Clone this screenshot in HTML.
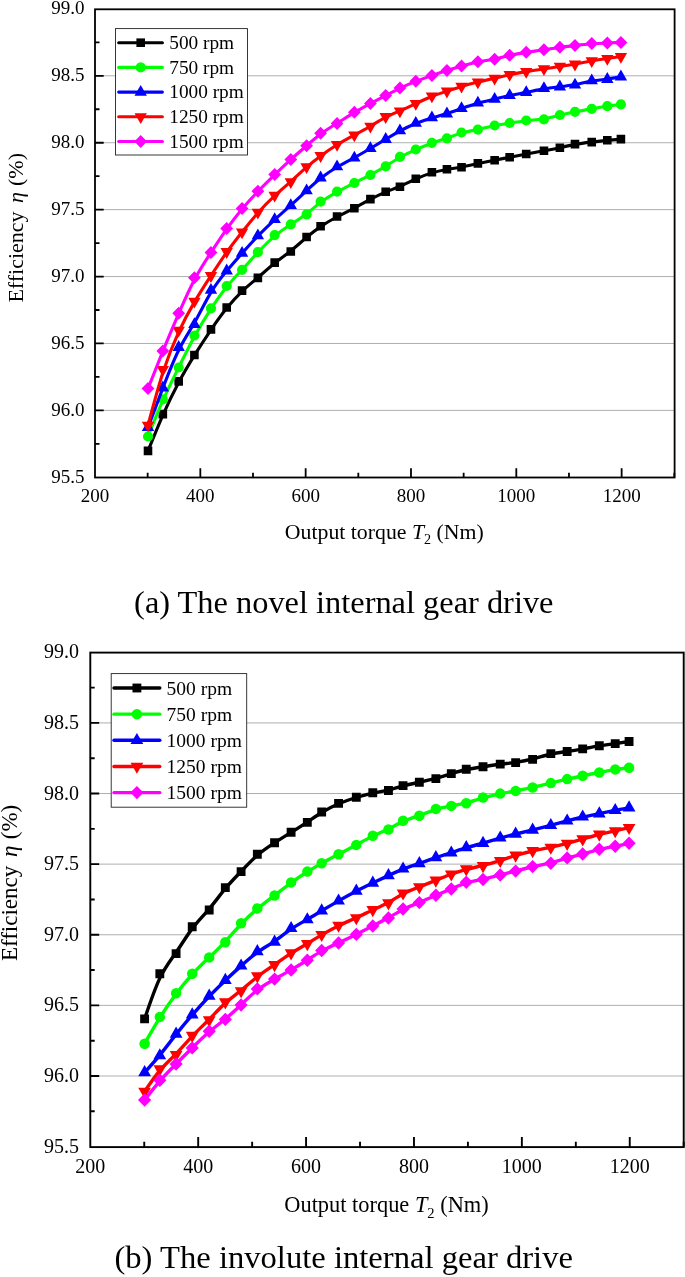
<!DOCTYPE html>
<html lang="en"><head><meta charset="utf-8"><title>Efficiency vs output torque</title>
<style>
html,body{margin:0;padding:0;background:#fff;}
body{width:685px;height:1277px;overflow:hidden;font-family:"Liberation Serif","Times New Roman",serif;}
svg{display:block;position:absolute;left:0;top:0;}
svg text{font-family:"Liberation Serif","Times New Roman",serif;fill:#000;}
</style></head><body>
<svg width="685" height="1277" viewBox="0 0 685 1277">
<rect width="685" height="1277" fill="#fff"/>
<g id="chart-a">
<path d="M95 75.81H674.6M95 142.73H674.6M95 209.64H674.6M95 276.56H674.6M95 343.47H674.6M95 410.39H674.6" stroke="#9a9a9a" stroke-width="0.8" fill="none"/>
<path d="M148 450.9C152.94 438.63 157.89 426.37 163 414.78C168.12 403.2 173.41 392.3 178.67 382.45C183.93 372.6 189.17 363.8 194.55 355.13C199.93 346.47 205.45 337.93 210.83 330.02C216.21 322.1 221.45 314.8 226.63 308.33C231.81 301.87 236.93 296.23 242.13 291.3C247.33 286.37 252.6 282.13 258.04 277.47C263.48 272.8 269.08 267.7 274.56 263.3C280.05 258.9 285.42 255.2 290.74 250.93C296.06 246.67 301.33 241.83 306.3 237.62C311.27 233.4 315.93 229.8 321.01 226.38C326.08 222.97 331.57 219.73 337.19 216.75C342.82 213.77 348.58 211.03 354.14 208.13C359.7 205.23 365.06 202.17 370.28 199.4C375.5 196.63 380.59 194.17 385.51 192.1C390.43 190.03 395.18 188.37 400.2 186.22C405.21 184.07 410.5 181.43 415.83 179.03C421.16 176.63 426.53 174.47 431.72 172.88C436.91 171.3 441.92 170.3 446.86 169.45C451.79 168.6 456.65 167.9 461.81 166.92C466.97 165.93 472.42 164.67 477.94 163.5C483.46 162.33 489.04 161.27 494.34 160.23C499.64 159.2 504.64 158.2 509.91 157.17C515.17 156.13 520.69 155.07 526.41 154C532.12 152.93 538.03 151.87 543.64 150.83C549.25 149.8 554.56 148.8 559.73 147.68C564.9 146.57 569.95 145.33 575.26 144.38C580.57 143.43 586.16 142.77 591.54 142.13C596.93 141.5 602.12 140.9 606.98 140.4C611.84 139.9 616.38 139.5 620.91 139.1" stroke="#000000" stroke-width="3.1" fill="none" stroke-linejoin="round"/>
<path d="M143.7 446.6h8.6v8.6h-8.6zM158.53 409.8h8.6v8.6h-8.6zM174.39 377.1h8.6v8.6h-8.6zM190.11 350.7h8.6v8.6h-8.6zM206.67 325.1h8.6v8.6h-8.6zM222.39 303.2h8.6v8.6h-8.6zM237.76 286.3h8.6v8.6h-8.6zM253.57 273.6h8.6v8.6h-8.6zM270.38 258.3h8.6v8.6h-8.6zM286.49 247.2h8.6v8.6h-8.6zM302.3 232.7h8.6v8.6h-8.6zM316.3 221.9h8.6v8.6h-8.6zM332.75 212.2h8.6v8.6h-8.6zM350.05 204h8.6v8.6h-8.6zM366.11 194.8h8.6v8.6h-8.6zM381.39 187.4h8.6v8.6h-8.6zM395.63 182.4h8.6v8.6h-8.6zM411.49 174.5h8.6v8.6h-8.6zM427.6 168h8.6v8.6h-8.6zM442.63 165h8.6v8.6h-8.6zM457.22 162.9h8.6v8.6h-8.6zM473.57 159.1h8.6v8.6h-8.6zM490.33 155.9h8.6v8.6h-8.6zM505.35 152.9h8.6v8.6h-8.6zM521.91 149.7h8.6v8.6h-8.6zM539.65 146.5h8.6v8.6h-8.6zM555.56 143.5h8.6v8.6h-8.6zM570.69 139.8h8.6v8.6h-8.6zM587.44 137.8h8.6v8.6h-8.6zM603.01 136h8.6v8.6h-8.6zM616.61 134.8h8.6v8.6h-8.6z" fill="#000000"/>
<path d="M148 436.5C152.94 424.1 157.89 411.7 163 400.2C168.12 388.7 173.41 378.1 178.67 367.47C183.93 356.83 189.17 346.17 194.55 336.3C199.93 326.43 205.45 317.37 210.83 309.12C216.21 300.87 221.45 293.43 226.63 287.02C231.81 280.6 236.93 275.2 242.13 269.57C247.33 263.93 252.6 258.07 258.04 252.28C263.48 246.5 269.08 240.8 274.56 236.15C280.05 231.5 285.42 227.9 290.74 224.45C296.06 221 301.33 217.7 306.3 213.92C311.27 210.13 315.93 205.87 321.01 202.08C326.08 198.3 331.57 195 337.19 191.9C342.82 188.8 348.58 185.9 354.14 183.12C359.7 180.33 365.06 177.67 370.28 174.9C375.5 172.13 380.59 169.27 385.51 166.25C390.43 163.23 395.18 160.07 400.2 157.25C405.21 154.43 410.5 151.97 415.83 149.62C421.16 147.27 426.53 145.03 431.72 143.17C436.91 141.3 441.92 139.8 446.86 138.08C451.79 136.37 456.65 134.43 461.81 133C466.97 131.57 472.42 130.63 477.94 129.47C483.46 128.3 489.04 126.9 494.34 125.78C499.64 124.67 504.64 123.83 509.91 123C515.17 122.17 520.69 121.33 526.41 120.72C532.12 120.1 538.03 119.7 543.64 118.78C549.25 117.87 554.56 116.43 559.73 115.18C564.9 113.93 569.95 112.87 575.26 111.83C580.57 110.8 586.16 109.8 591.54 108.85C596.93 107.9 602.12 107 606.98 106.27C611.84 105.53 616.38 104.97 620.91 104.4" stroke="#00ff00" stroke-width="3.1" fill="none" stroke-linejoin="round"/>
<path d="M142.9 436.5a5.1 5.1 0 1 0 10.2 0a5.1 5.1 0 1 0 -10.2 0zM157.73 399.3a5.1 5.1 0 1 0 10.2 0a5.1 5.1 0 1 0 -10.2 0zM173.59 367.5a5.1 5.1 0 1 0 10.2 0a5.1 5.1 0 1 0 -10.2 0zM189.31 335.5a5.1 5.1 0 1 0 10.2 0a5.1 5.1 0 1 0 -10.2 0zM205.87 308.3a5.1 5.1 0 1 0 10.2 0a5.1 5.1 0 1 0 -10.2 0zM221.59 286a5.1 5.1 0 1 0 10.2 0a5.1 5.1 0 1 0 -10.2 0zM236.96 269.8a5.1 5.1 0 1 0 10.2 0a5.1 5.1 0 1 0 -10.2 0zM252.77 252.2a5.1 5.1 0 1 0 10.2 0a5.1 5.1 0 1 0 -10.2 0zM269.58 235.1a5.1 5.1 0 1 0 10.2 0a5.1 5.1 0 1 0 -10.2 0zM285.69 224.3a5.1 5.1 0 1 0 10.2 0a5.1 5.1 0 1 0 -10.2 0zM301.5 214.4a5.1 5.1 0 1 0 10.2 0a5.1 5.1 0 1 0 -10.2 0zM315.5 201.6a5.1 5.1 0 1 0 10.2 0a5.1 5.1 0 1 0 -10.2 0zM331.95 191.7a5.1 5.1 0 1 0 10.2 0a5.1 5.1 0 1 0 -10.2 0zM349.25 183a5.1 5.1 0 1 0 10.2 0a5.1 5.1 0 1 0 -10.2 0zM365.31 175a5.1 5.1 0 1 0 10.2 0a5.1 5.1 0 1 0 -10.2 0zM380.59 166.4a5.1 5.1 0 1 0 10.2 0a5.1 5.1 0 1 0 -10.2 0zM394.83 156.9a5.1 5.1 0 1 0 10.2 0a5.1 5.1 0 1 0 -10.2 0zM410.69 149.5a5.1 5.1 0 1 0 10.2 0a5.1 5.1 0 1 0 -10.2 0zM426.8 142.8a5.1 5.1 0 1 0 10.2 0a5.1 5.1 0 1 0 -10.2 0zM441.83 138.3a5.1 5.1 0 1 0 10.2 0a5.1 5.1 0 1 0 -10.2 0zM456.42 132.5a5.1 5.1 0 1 0 10.2 0a5.1 5.1 0 1 0 -10.2 0zM472.77 129.7a5.1 5.1 0 1 0 10.2 0a5.1 5.1 0 1 0 -10.2 0zM489.53 125.5a5.1 5.1 0 1 0 10.2 0a5.1 5.1 0 1 0 -10.2 0zM504.55 123a5.1 5.1 0 1 0 10.2 0a5.1 5.1 0 1 0 -10.2 0zM521.11 120.5a5.1 5.1 0 1 0 10.2 0a5.1 5.1 0 1 0 -10.2 0zM538.85 119.3a5.1 5.1 0 1 0 10.2 0a5.1 5.1 0 1 0 -10.2 0zM554.76 115a5.1 5.1 0 1 0 10.2 0a5.1 5.1 0 1 0 -10.2 0zM569.89 111.8a5.1 5.1 0 1 0 10.2 0a5.1 5.1 0 1 0 -10.2 0zM586.64 108.8a5.1 5.1 0 1 0 10.2 0a5.1 5.1 0 1 0 -10.2 0zM602.21 106.1a5.1 5.1 0 1 0 10.2 0a5.1 5.1 0 1 0 -10.2 0zM615.81 104.4a5.1 5.1 0 1 0 10.2 0a5.1 5.1 0 1 0 -10.2 0z" fill="#00ff00"/>
<path d="M148 427.5C152.94 414.27 157.89 401.03 163 387.67C168.12 374.3 173.41 360.8 178.67 350.23C183.93 339.67 189.17 332.03 194.55 322.5C199.93 312.97 205.45 301.53 210.83 292.6C216.21 283.67 221.45 277.23 226.63 271.07C231.81 264.9 236.93 259 242.13 253.13C247.33 247.27 252.6 241.43 258.04 235.83C263.48 230.23 269.08 224.87 274.56 219.83C280.05 214.8 285.42 210.1 290.74 205.28C296.06 200.47 301.33 195.53 306.3 190.93C311.27 186.33 315.93 182.07 321.01 178.07C326.08 174.07 331.57 170.33 337.19 167.02C342.82 163.7 348.58 160.8 354.14 157.78C359.7 154.77 365.06 151.63 370.28 148.53C375.5 145.43 380.59 142.37 385.51 139.38C390.43 136.4 395.18 133.5 400.2 130.82C405.21 128.13 410.5 125.67 415.83 123.52C421.16 121.37 426.53 119.53 431.72 117.97C436.91 116.4 441.92 115.1 446.86 113.55C451.79 112 456.65 110.2 461.81 108.38C466.97 106.57 472.42 104.73 477.94 103.2C483.46 101.67 489.04 100.43 494.34 99.18C499.64 97.93 504.64 96.67 509.91 95.55C515.17 94.43 520.69 93.47 526.41 92.32C532.12 91.17 538.03 89.83 543.64 88.88C549.25 87.93 554.56 87.37 559.73 86.78C564.9 86.2 569.95 85.6 575.26 84.57C580.57 83.53 586.16 82.07 591.54 81.12C596.93 80.17 602.12 79.73 606.98 79.1C611.84 78.47 616.38 77.63 620.91 76.8" stroke="#0000ff" stroke-width="3.1" fill="none" stroke-linejoin="round"/>
<path d="M148 420.3L154.2 431.1L141.8 431.1zM162.83 380.6L169.03 391.4L156.63 391.4zM178.69 340.1L184.89 350.9L172.49 350.9zM194.41 317.2L200.61 328L188.21 328zM210.97 282.9L217.17 293.7L204.77 293.7zM226.69 263.6L232.89 274.4L220.49 274.4zM242.06 245.9L248.26 256.7L235.86 256.7zM257.87 228.4L264.07 239.2L251.67 239.2zM274.68 212.3L280.88 223.1L268.48 223.1zM290.79 198.2L296.99 209L284.59 209zM306.6 183.4L312.8 194.2L300.4 194.2zM320.6 170.6L326.8 181.4L314.4 181.4zM337.05 159.4L343.25 170.2L330.85 170.2zM354.35 150.7L360.55 161.5L348.15 161.5zM370.41 141.3L376.61 152.1L364.21 152.1zM385.69 132.1L391.89 142.9L379.49 142.9zM399.93 123.4L406.13 134.2L393.73 134.2zM415.79 116L421.99 126.8L409.59 126.8zM431.9 110.5L438.1 121.3L425.7 121.3zM446.93 106.6L453.13 117.4L440.73 117.4zM461.52 101.2L467.72 112L455.32 112zM477.87 95.7L484.07 106.5L471.67 106.5zM494.63 92L500.83 102.8L488.43 102.8zM509.65 88.2L515.85 99L503.45 99zM526.21 85.3L532.41 96.1L520.01 96.1zM543.95 81.3L550.15 92.1L537.75 92.1zM559.86 79.6L566.06 90.4L553.66 90.4zM574.99 77.8L581.19 88.6L568.79 88.6zM591.74 73.4L597.94 84.2L585.54 84.2zM607.31 72.1L613.51 82.9L601.11 82.9zM620.91 69.6L627.11 80.4L614.71 80.4z" fill="#0000ff"/>
<path d="M148 425.3C152.94 406.7 157.89 388.1 163 372.28C168.12 356.47 173.41 343.43 178.67 332.07C183.93 320.7 189.17 311 194.55 301.88C199.93 292.77 205.45 284.23 210.83 275.97C216.21 267.7 221.45 259.7 226.63 252.43C231.81 245.17 236.93 238.63 242.13 232.07C247.33 225.5 252.6 218.9 258.04 212.78C263.48 206.67 269.08 201.03 274.56 195.95C280.05 190.87 285.42 186.33 290.74 181.57C296.06 176.8 301.33 171.8 306.3 167.45C311.27 163.1 315.93 159.4 321.01 155.68C326.08 151.97 331.57 148.23 337.19 144.8C342.82 141.37 348.58 138.23 354.14 135.22C359.7 132.2 365.06 129.3 370.28 126.23C375.5 123.17 380.59 119.93 385.51 117.37C390.43 114.8 395.18 112.9 400.2 110.72C405.21 108.53 410.5 106.07 415.83 103.58C421.16 101.1 426.53 98.6 431.72 96.53C436.91 94.47 441.92 92.83 446.86 91.2C451.79 89.57 456.65 87.93 461.81 86.4C466.97 84.87 472.42 83.43 477.94 82.1C483.46 80.77 489.04 79.53 494.34 78.3C499.64 77.07 504.64 75.83 509.91 74.72C515.17 73.6 520.69 72.6 526.41 71.65C532.12 70.7 538.03 69.8 543.64 68.93C549.25 68.07 554.56 67.23 559.73 66.45C564.9 65.67 569.95 64.93 575.26 64.02C580.57 63.1 586.16 62 591.54 61.05C596.93 60.1 602.12 59.3 606.98 58.57C611.84 57.83 616.38 57.17 620.91 56.5" stroke="#ff0000" stroke-width="3.1" fill="none" stroke-linejoin="round"/>
<path d="M148 432.5L154.2 421.7L141.8 421.7zM162.83 376.7L169.03 365.9L156.63 365.9zM178.69 337.6L184.89 326.8L172.49 326.8zM194.41 308.5L200.61 297.7L188.21 297.7zM210.97 282.9L217.17 272.1L204.77 272.1zM226.69 258.9L232.89 248.1L220.49 248.1zM242.06 239.3L248.26 228.5L235.86 228.5zM257.87 219.5L264.07 208.7L251.67 208.7zM274.68 202.6L280.88 191.8L268.48 191.8zM290.79 189L296.99 178.2L284.59 178.2zM306.6 174L312.8 163.2L300.4 163.2zM320.6 162.9L326.8 152.1L314.4 152.1zM337.05 151.7L343.25 140.9L330.85 140.9zM354.35 142.3L360.55 131.5L348.15 131.5zM370.41 133.6L376.61 122.8L364.21 122.8zM385.69 123.9L391.89 113.1L379.49 113.1zM399.93 118.2L406.13 107.4L393.73 107.4zM415.79 110.8L421.99 100L409.59 100zM431.9 103.3L438.1 92.5L425.7 92.5zM446.93 98.4L453.13 87.6L440.73 87.6zM461.52 93.5L467.72 82.7L455.32 82.7zM477.87 89.2L484.07 78.4L471.67 78.4zM494.63 85.5L500.83 74.7L488.43 74.7zM509.65 81.8L515.85 71L503.45 71zM526.21 78.8L532.41 68L520.01 68zM543.95 76.1L550.15 65.3L537.75 65.3zM559.86 73.6L566.06 62.8L553.66 62.8zM574.99 71.4L581.19 60.6L568.79 60.6zM591.74 68.1L597.94 57.3L585.54 57.3zM607.31 65.7L613.51 54.9L601.11 54.9zM620.91 63.7L627.11 52.9L614.71 52.9z" fill="#ff0000"/>
<path d="M148 388.6C152.94 376.03 157.89 363.47 163 350.92C168.12 338.37 173.41 325.83 178.67 313.65C183.93 301.47 189.17 289.63 194.55 279.5C199.93 269.37 205.45 260.93 210.83 252.7C216.21 244.47 221.45 236.43 226.63 229.1C231.81 221.77 236.93 215.13 242.13 208.93C247.33 202.73 252.6 196.97 258.04 191.3C263.48 185.63 269.08 180.07 274.56 174.77C280.05 169.47 285.42 164.43 290.74 159.65C296.06 154.87 301.33 150.33 306.3 145.98C311.27 141.63 315.93 137.47 321.01 133.73C326.08 130 331.57 126.7 337.19 123.2C342.82 119.7 348.58 116 354.14 112.7C359.7 109.4 365.06 106.5 370.28 103.68C375.5 100.87 380.59 98.13 385.51 95.52C390.43 92.9 395.18 90.4 400.2 88.03C405.21 85.67 410.5 83.43 415.83 81.37C421.16 79.3 426.53 77.4 431.72 75.62C436.91 73.83 441.92 72.17 446.86 70.57C451.79 68.97 456.65 67.43 461.81 65.97C466.97 64.5 472.42 63.1 477.94 61.98C483.46 60.87 489.04 60.03 494.34 58.95C499.64 57.87 504.64 56.53 509.91 55.38C515.17 54.23 520.69 53.27 526.41 52.37C532.12 51.47 538.03 50.63 543.64 49.8C549.25 48.97 554.56 48.13 559.73 47.43C564.9 46.73 569.95 46.17 575.26 45.55C580.57 44.93 586.16 44.27 591.54 43.82C596.93 43.37 602.12 43.13 606.98 42.93C611.84 42.73 616.38 42.57 620.91 42.4" stroke="#ff00ff" stroke-width="3.1" fill="none" stroke-linejoin="round"/>
<path d="M148 382.1L154.4 388.6L148 395.1L141.6 388.6zM162.83 344.4L169.23 350.9L162.83 357.4L156.43 350.9zM178.69 306.8L185.09 313.3L178.69 319.8L172.29 313.3zM194.41 271.3L200.81 277.8L194.41 284.3L188.01 277.8zM210.97 246L217.37 252.5L210.97 259L204.57 252.5zM226.69 221.9L233.09 228.4L226.69 234.9L220.29 228.4zM242.06 202L248.46 208.5L242.06 215L235.66 208.5zM257.87 184.7L264.27 191.2L257.87 197.7L251.47 191.2zM274.68 168L281.08 174.5L274.68 181L268.28 174.5zM290.79 152.9L297.19 159.4L290.79 165.9L284.39 159.4zM306.6 139.3L313 145.8L306.6 152.3L300.2 145.8zM320.6 126.8L327 133.3L320.6 139.8L314.2 133.3zM337.05 116.9L343.45 123.4L337.05 129.9L330.65 123.4zM354.35 105.8L360.75 112.3L354.35 118.8L347.95 112.3zM370.41 97.1L376.81 103.6L370.41 110.1L364.01 103.6zM385.69 88.9L392.09 95.4L385.69 101.9L379.29 95.4zM399.93 81.4L406.33 87.9L399.93 94.4L393.53 87.9zM415.79 74.7L422.19 81.2L415.79 87.7L409.39 81.2zM431.9 69L438.3 75.5L431.9 82L425.5 75.5zM446.93 64L453.33 70.5L446.93 77L440.53 70.5zM461.52 59.4L467.92 65.9L461.52 72.4L455.12 65.9zM477.87 55.2L484.27 61.7L477.87 68.2L471.47 61.7zM494.63 52.7L501.03 59.2L494.63 65.7L488.23 59.2zM509.65 48.7L516.05 55.2L509.65 61.7L503.25 55.2zM526.21 45.8L532.61 52.3L526.21 58.8L519.81 52.3zM543.95 43.3L550.35 49.8L543.95 56.3L537.55 49.8zM559.86 40.8L566.26 47.3L559.86 53.8L553.46 47.3zM574.99 39.1L581.39 45.6L574.99 52.1L568.59 45.6zM591.74 37.1L598.14 43.6L591.74 50.1L585.34 43.6zM607.31 36.4L613.71 42.9L607.31 49.4L600.91 42.9zM620.91 35.9L627.31 42.4L620.91 48.9L614.51 42.4z" fill="#ff00ff"/>
<rect x="95" y="9.3" width="579.6" height="468.2" fill="none" stroke="#000" stroke-width="1.8"/>
<path d="M95 443.84h4.5M95 410.39h8.7M95 376.93h4.5M95 343.47h8.7M95 310.01h4.5M95 276.56h8.7M95 243.1h4.5M95 209.64h8.7M95 176.19h4.5M95 142.73h8.7M95 109.27h4.5M95 75.81h8.7M95 42.36h4.5M147.66 477.5v-4.7M200.33 477.5v-9.3M252.99 477.5v-4.7M305.65 477.5v-9.3M358.32 477.5v-4.7M410.98 477.5v-9.3M463.65 477.5v-4.7M516.31 477.5v-9.3M568.97 477.5v-4.7M621.64 477.5v-9.3M674.3 477.5v-4.7" stroke="#000" stroke-width="1.8" fill="none"/>
<g font-size="19" text-anchor="end">
<text x="84.6" y="482.8">95.5</text>
<text x="84.6" y="415.89">96.0</text>
<text x="84.6" y="348.97">96.5</text>
<text x="84.6" y="282.06">97.0</text>
<text x="84.6" y="215.14">97.5</text>
<text x="84.6" y="148.23">98.0</text>
<text x="84.6" y="81.31">98.5</text>
<text x="84.6" y="14.4">99.0</text>
</g>
<g font-size="19" text-anchor="middle">
<text x="95" y="502">200</text>
<text x="200.33" y="502">400</text>
<text x="305.65" y="502">600</text>
<text x="410.98" y="502">800</text>
<text x="516.31" y="502">1000</text>
<text x="621.64" y="502">1200</text>
</g>
<text font-size="22" text-anchor="start" transform="translate(23.4 302.6) rotate(-90)">Efficiency<tspan font-style="italic" dx="8.29">η</tspan><tspan dx="6.16">(%)</tspan></text>
<text font-size="21.8" text-anchor="middle" x="384.3" y="538.8">Output torque <tspan font-style="italic">T</tspan><tspan font-size="14.17" dy="5.67">2</tspan><tspan dy="-5.67"> (Nm)</tspan></text>
<rect x="115.5" y="28.6" width="132" height="126.4" fill="#fff" stroke="#222" stroke-width="0.9"/>
<g font-size="19.3">
<path d="M118.7 42.7H162.4" stroke="#000000" stroke-width="3.1" stroke-linecap="round"/>
<path d="M136.4 38.4h8.6v8.6h-8.6z" fill="#000000"/>
<text x="169.3" y="49">500 rpm</text>
<path d="M118.7 67.4H162.4" stroke="#00ff00" stroke-width="3.1" stroke-linecap="round"/>
<path d="M135.6 67.4a5.1 5.1 0 1 0 10.2 0a5.1 5.1 0 1 0 -10.2 0z" fill="#00ff00"/>
<text x="169.3" y="73.7">750 rpm</text>
<path d="M118.7 92.1H162.4" stroke="#0000ff" stroke-width="3.1" stroke-linecap="round"/>
<path d="M140.7 84.9L146.9 95.7L134.5 95.7z" fill="#0000ff"/>
<text x="169.3" y="98.4">1000 rpm</text>
<path d="M118.7 116.8H162.4" stroke="#ff0000" stroke-width="3.1" stroke-linecap="round"/>
<path d="M140.7 124L146.9 113.2L134.5 113.2z" fill="#ff0000"/>
<text x="169.3" y="123.1">1250 rpm</text>
<path d="M118.7 141.5H162.4" stroke="#ff00ff" stroke-width="3.1" stroke-linecap="round"/>
<path d="M140.7 135L147.1 141.5L140.7 148L134.3 141.5z" fill="#ff00ff"/>
<text x="169.3" y="147.8">1500 rpm</text>
</g>
</g>
<text font-size="32.4" text-anchor="middle" x="343.8" y="612.9">(a) The novel internal gear drive</text>
<g id="chart-b">
<path d="M90.3 722.91H683.7M90.3 793.53H683.7M90.3 864.14H683.7M90.3 934.76H683.7M90.3 1005.37H683.7M90.3 1075.99H683.7" stroke="#a0a0a0" stroke-width="0.85" fill="none"/>
<path d="M144.6 1018.9C149.67 1003.83 154.74 988.77 159.99 977.88C165.24 967 170.67 960.3 176.07 952.47C181.47 944.63 186.84 935.67 192.36 928.4C197.88 921.13 203.54 915.57 209.06 909.05C214.58 902.53 219.95 895.07 225.27 888.67C230.59 882.27 235.84 876.93 241.18 871.37C246.51 865.8 251.92 860 257.5 855.18C263.07 850.37 268.82 846.53 274.45 842.88C280.08 839.23 285.59 835.77 291.04 832.38C296.5 829 301.91 825.7 307.01 822.32C312.11 818.93 316.89 815.47 322.1 812.3C327.31 809.13 332.93 806.27 338.7 803.8C344.48 801.33 350.39 799.27 356.09 797.5C361.8 795.73 367.29 794.27 372.65 793.15C378.01 792.03 383.23 791.27 388.28 790.07C393.32 788.87 398.19 787.23 403.34 785.87C408.49 784.5 413.91 783.4 419.38 782.23C424.85 781.07 430.36 779.83 435.68 778.38C441.01 776.93 446.15 775.27 451.21 773.7C456.28 772.13 461.26 770.67 466.55 769.53C471.84 768.4 477.44 767.6 483.1 766.75C488.76 765.9 494.49 765 499.93 764.3C505.36 763.6 510.5 763.1 515.9 762.32C521.3 761.53 526.96 760.47 532.83 758.97C538.69 757.47 544.75 755.53 550.51 754.22C556.26 752.9 561.71 752.2 567.01 751.42C572.32 750.63 577.49 749.77 582.85 748.8C588.21 747.83 593.75 746.77 599.18 745.88C604.61 745 609.91 744.3 614.88 743.6C619.84 742.9 624.46 742.2 629.07 741.5" stroke="#000000" stroke-width="3.4" fill="none" stroke-linejoin="round"/>
<path d="M140.17 1014.47h8.86v8.86h-8.86zM155.39 969.27h8.86v8.86h-8.86zM171.66 949.17h8.86v8.86h-8.86zM187.79 922.27h8.86v8.86h-8.86zM204.78 905.57h8.86v8.86h-8.86zM220.9 883.17h8.86v8.86h-8.86zM236.67 867.17h8.86v8.86h-8.86zM252.9 849.77h8.86v8.86h-8.86zM270.14 838.27h8.86v8.86h-8.86zM286.67 827.87h8.86v8.86h-8.86zM302.89 817.97h8.86v8.86h-8.86zM317.25 807.57h8.86v8.86h-8.86zM334.13 798.97h8.86v8.86h-8.86zM351.88 792.77h8.86v8.86h-8.86zM368.35 788.37h8.86v8.86h-8.86zM384.03 786.07h8.86v8.86h-8.86zM398.63 781.17h8.86v8.86h-8.86zM414.91 777.87h8.86v8.86h-8.86zM431.44 774.17h8.86v8.86h-8.86zM446.86 769.17h8.86v8.86h-8.86zM461.82 764.77h8.86v8.86h-8.86zM478.6 762.37h8.86v8.86h-8.86zM495.79 759.67h8.86v8.86h-8.86zM511.21 758.17h8.86v8.86h-8.86zM528.19 754.97h8.86v8.86h-8.86zM546.39 749.17h8.86v8.86h-8.86zM562.72 747.07h8.86v8.86h-8.86zM578.24 744.47h8.86v8.86h-8.86zM594.87 741.27h8.86v8.86h-8.86zM610.79 739.17h8.86v8.86h-8.86zM624.64 737.07h8.86v8.86h-8.86z" fill="#000000"/>
<path d="M144.6 1043.7C149.67 1034.77 154.74 1025.83 159.99 1017.43C165.24 1009.03 170.67 1001.17 176.07 993.97C181.47 986.77 186.84 980.23 192.36 974.25C197.88 968.27 203.54 962.83 209.06 957.58C214.58 952.33 219.95 947.27 225.27 941.58C230.59 935.9 235.84 929.6 241.18 923.97C246.51 918.33 251.92 913.37 257.5 908.73C263.07 904.1 268.82 899.8 274.45 895.47C280.08 891.13 285.59 886.77 291.04 882.78C296.5 878.8 301.91 875.2 307.01 872C312.11 868.8 316.89 866 322.1 863.12C327.31 860.23 332.93 857.27 338.7 854.22C344.48 851.17 350.39 848.03 356.09 844.93C361.8 841.83 367.29 838.77 372.65 836.2C378.01 833.63 383.23 831.57 388.28 829.08C393.32 826.6 398.19 823.7 403.34 821.42C408.49 819.13 413.91 817.47 419.38 815.48C424.85 813.5 430.36 811.2 435.68 809.55C441.01 807.9 446.15 806.9 451.21 805.95C456.28 805 461.26 804.1 466.55 802.7C471.84 801.3 477.44 799.4 483.1 797.8C488.76 796.2 494.49 794.9 499.93 793.8C505.36 792.7 510.5 791.8 515.9 790.78C521.3 789.77 526.96 788.63 532.83 787.33C538.69 786.03 544.75 784.57 550.51 783.17C556.26 781.77 561.71 780.43 567.01 779.2C572.32 777.97 577.49 776.83 582.85 775.73C588.21 774.63 593.75 773.57 599.18 772.52C604.61 771.47 609.91 770.43 614.88 769.65C619.84 768.87 624.46 768.33 629.07 767.8" stroke="#00ff00" stroke-width="3.4" fill="none" stroke-linejoin="round"/>
<path d="M139.35 1043.7a5.25 5.25 0 1 0 10.51 0a5.25 5.25 0 1 0 -10.51 0zM154.56 1016.9a5.25 5.25 0 1 0 10.51 0a5.25 5.25 0 1 0 -10.51 0zM170.84 993.3a5.25 5.25 0 1 0 10.51 0a5.25 5.25 0 1 0 -10.51 0zM186.97 973.7a5.25 5.25 0 1 0 10.51 0a5.25 5.25 0 1 0 -10.51 0zM203.95 957.4a5.25 5.25 0 1 0 10.51 0a5.25 5.25 0 1 0 -10.51 0zM220.08 942.2a5.25 5.25 0 1 0 10.51 0a5.25 5.25 0 1 0 -10.51 0zM235.85 923.3a5.25 5.25 0 1 0 10.51 0a5.25 5.25 0 1 0 -10.51 0zM252.07 908.4a5.25 5.25 0 1 0 10.51 0a5.25 5.25 0 1 0 -10.51 0zM269.31 895.5a5.25 5.25 0 1 0 10.51 0a5.25 5.25 0 1 0 -10.51 0zM285.84 882.4a5.25 5.25 0 1 0 10.51 0a5.25 5.25 0 1 0 -10.51 0zM302.07 871.6a5.25 5.25 0 1 0 10.51 0a5.25 5.25 0 1 0 -10.51 0zM316.42 863.2a5.25 5.25 0 1 0 10.51 0a5.25 5.25 0 1 0 -10.51 0zM333.31 854.3a5.25 5.25 0 1 0 10.51 0a5.25 5.25 0 1 0 -10.51 0zM351.05 844.9a5.25 5.25 0 1 0 10.51 0a5.25 5.25 0 1 0 -10.51 0zM367.53 835.7a5.25 5.25 0 1 0 10.51 0a5.25 5.25 0 1 0 -10.51 0zM383.2 829.5a5.25 5.25 0 1 0 10.51 0a5.25 5.25 0 1 0 -10.51 0zM397.81 820.8a5.25 5.25 0 1 0 10.51 0a5.25 5.25 0 1 0 -10.51 0zM414.09 815.8a5.25 5.25 0 1 0 10.51 0a5.25 5.25 0 1 0 -10.51 0zM430.62 808.9a5.25 5.25 0 1 0 10.51 0a5.25 5.25 0 1 0 -10.51 0zM446.03 805.9a5.25 5.25 0 1 0 10.51 0a5.25 5.25 0 1 0 -10.51 0zM461 803.2a5.25 5.25 0 1 0 10.51 0a5.25 5.25 0 1 0 -10.51 0zM477.78 797.5a5.25 5.25 0 1 0 10.51 0a5.25 5.25 0 1 0 -10.51 0zM494.97 793.6a5.25 5.25 0 1 0 10.51 0a5.25 5.25 0 1 0 -10.51 0zM510.39 790.9a5.25 5.25 0 1 0 10.51 0a5.25 5.25 0 1 0 -10.51 0zM527.37 787.5a5.25 5.25 0 1 0 10.51 0a5.25 5.25 0 1 0 -10.51 0zM545.57 783.1a5.25 5.25 0 1 0 10.51 0a5.25 5.25 0 1 0 -10.51 0zM561.9 779.1a5.25 5.25 0 1 0 10.51 0a5.25 5.25 0 1 0 -10.51 0zM577.41 775.7a5.25 5.25 0 1 0 10.51 0a5.25 5.25 0 1 0 -10.51 0zM594.05 772.5a5.25 5.25 0 1 0 10.51 0a5.25 5.25 0 1 0 -10.51 0zM609.97 769.4a5.25 5.25 0 1 0 10.51 0a5.25 5.25 0 1 0 -10.51 0zM623.82 767.8a5.25 5.25 0 1 0 10.51 0a5.25 5.25 0 1 0 -10.51 0z" fill="#00ff00"/>
<path d="M144.6 1072.5C149.67 1066.87 154.74 1061.23 159.99 1054.82C165.24 1048.4 170.67 1041.2 176.07 1034.38C181.47 1027.57 186.84 1021.13 192.36 1014.8C197.88 1008.47 203.54 1002.23 209.06 996.48C214.58 990.73 219.95 985.47 225.27 980.45C230.59 975.43 235.84 970.67 241.18 965.88C246.51 961.1 251.92 956.3 257.5 952.32C263.07 948.33 268.82 945.17 274.45 941.3C280.08 937.43 285.59 932.87 291.04 929.13C296.5 925.4 301.91 922.5 307.01 919.57C312.11 916.63 316.89 913.67 322.1 910.55C327.31 907.43 332.93 904.17 338.7 900.88C344.48 897.6 350.39 894.3 356.09 891.32C361.8 888.33 367.29 885.67 372.65 883.08C378.01 880.5 383.23 878 388.28 875.65C393.32 873.3 398.19 871.1 403.34 869.1C408.49 867.1 413.91 865.3 419.38 863.4C424.85 861.5 430.36 859.5 435.68 857.72C441.01 855.93 446.15 854.37 451.21 852.7C456.28 851.03 461.26 849.27 466.55 847.67C471.84 846.07 477.44 844.63 483.1 843.03C488.76 841.43 494.49 839.67 499.93 838.13C505.36 836.6 510.5 835.3 515.9 833.98C521.3 832.67 526.96 831.33 532.83 829.88C538.69 828.43 544.75 826.87 550.51 825.33C556.26 823.8 561.71 822.3 567.01 820.9C572.32 819.5 577.49 818.2 582.85 817.02C588.21 815.83 593.75 814.77 599.18 813.67C604.61 812.57 609.91 811.43 614.88 810.43C619.84 809.43 624.46 808.57 629.07 807.7" stroke="#0000ff" stroke-width="3.4" fill="none" stroke-linejoin="round"/>
<path d="M144.6 1065.08L150.99 1076.21L138.22 1076.21zM159.82 1048.18L166.2 1059.31L153.43 1059.31zM176.09 1026.58L182.48 1037.71L169.71 1037.71zM192.22 1007.28L198.61 1018.41L185.83 1018.41zM209.2 988.58L215.59 999.71L202.82 999.71zM225.33 972.78L231.72 983.91L218.94 983.91zM241.1 958.48L247.49 969.61L234.72 969.61zM257.33 944.08L263.71 955.21L250.94 955.21zM274.57 934.58L280.95 945.71L268.18 945.71zM291.09 920.88L297.48 932.01L284.71 932.01zM307.32 912.18L313.71 923.31L300.94 923.31zM321.68 903.28L328.06 914.41L315.29 914.41zM338.56 893.48L344.95 904.61L332.18 904.61zM356.3 883.58L362.69 894.71L349.92 894.71zM372.78 875.58L379.17 886.71L366.4 886.71zM388.45 868.08L394.84 879.21L382.07 879.21zM403.06 861.48L409.45 872.61L396.68 872.61zM419.34 856.08L425.73 867.21L412.95 867.21zM435.87 850.08L442.26 861.21L429.48 861.21zM451.29 845.38L457.67 856.51L444.9 856.51zM466.25 840.08L472.64 851.21L459.86 851.21zM483.03 835.78L489.42 846.91L476.65 846.91zM500.22 830.48L506.61 841.61L493.83 841.61zM515.64 826.58L522.02 837.71L509.25 837.71zM532.62 822.58L539.01 833.71L526.24 833.71zM550.82 817.88L557.21 829.01L544.43 829.01zM567.15 813.38L573.53 824.51L560.76 824.51zM582.67 809.48L589.05 820.61L576.28 820.61zM599.3 806.28L605.68 817.41L592.91 817.41zM615.22 802.88L621.61 814.01L608.84 814.01zM629.07 800.28L635.46 811.41L622.69 811.41z" fill="#0000ff"/>
<path d="M144.6 1091.4C149.67 1083.93 154.74 1076.47 159.99 1070.33C165.24 1064.2 170.67 1059.4 176.07 1053.82C181.47 1048.23 186.84 1041.87 192.36 1036.08C197.88 1030.3 203.54 1025.1 209.06 1019.52C214.58 1013.93 219.95 1007.97 225.27 1003.13C230.59 998.3 235.84 994.6 241.18 990.27C246.51 985.93 251.92 980.97 257.5 976.62C263.07 972.27 268.82 968.53 274.45 964.7C280.08 960.87 285.59 956.93 291.04 953.43C296.5 949.93 301.91 946.87 307.01 943.8C312.11 940.73 316.89 937.67 322.1 934.6C327.31 931.53 332.93 928.47 338.7 925.68C344.48 922.9 350.39 920.4 356.09 917.8C361.8 915.2 367.29 912.5 372.65 910.02C378.01 907.53 383.23 905.27 388.28 902.48C393.32 899.7 398.19 896.4 403.34 893.72C408.49 891.03 413.91 888.97 419.38 886.83C424.85 884.7 430.36 882.5 435.68 880.37C441.01 878.23 446.15 876.17 451.21 874.28C456.28 872.4 461.26 870.7 466.55 869.32C471.84 867.93 477.44 866.87 483.1 865.47C488.76 864.07 494.49 862.33 499.93 860.58C505.36 858.83 510.5 857.07 515.9 855.43C521.3 853.8 526.96 852.3 532.83 850.98C538.69 849.67 544.75 848.53 550.51 847.32C556.26 846.1 561.71 844.8 567.01 843.4C572.32 842 577.49 840.5 582.85 838.97C588.21 837.43 593.75 835.87 599.18 834.52C604.61 833.17 609.91 832.03 614.88 830.93C619.84 829.83 624.46 828.77 629.07 827.7" stroke="#ff0000" stroke-width="3.4" fill="none" stroke-linejoin="round"/>
<path d="M144.6 1098.82L150.99 1087.69L138.22 1087.69zM159.82 1076.42L166.2 1065.29L153.43 1065.29zM176.09 1062.02L182.48 1050.89L169.71 1050.89zM192.22 1042.92L198.61 1031.79L185.83 1031.79zM209.2 1027.32L215.59 1016.19L202.82 1016.19zM225.33 1009.42L231.72 998.29L218.94 998.29zM241.1 998.32L247.49 987.19L234.72 987.19zM257.33 983.42L263.71 972.29L250.94 972.29zM274.57 972.22L280.95 961.09L268.18 961.09zM291.09 960.42L297.48 949.29L284.71 949.29zM307.32 951.22L313.71 940.09L300.94 940.09zM321.68 942.02L328.06 930.89L315.29 930.89zM338.56 932.82L344.95 921.69L332.18 921.69zM356.3 925.32L362.69 914.19L349.92 914.19zM372.78 917.22L379.17 906.09L366.4 906.09zM388.45 910.42L394.84 899.29L382.07 899.29zM403.06 900.52L409.45 889.39L396.68 889.39zM419.34 894.32L425.73 883.19L412.95 883.19zM435.87 887.72L442.26 876.59L429.48 876.59zM451.29 881.52L457.67 870.39L444.9 870.39zM466.25 876.42L472.64 865.29L459.86 865.29zM483.03 873.22L489.42 862.09L476.65 862.09zM500.22 868.02L506.61 856.89L493.83 856.89zM515.64 862.72L522.02 851.59L509.25 851.59zM532.62 858.22L539.01 847.09L526.24 847.09zM550.82 854.82L557.21 843.69L544.43 843.69zM567.15 850.92L573.53 839.79L560.76 839.79zM582.67 846.42L589.05 835.29L576.28 835.29zM599.3 841.72L605.68 830.59L592.91 830.59zM615.22 838.32L621.61 827.19L608.84 827.19zM629.07 835.12L635.46 823.99L622.69 823.99z" fill="#ff0000"/>
<path d="M144.6 1100C149.67 1093.4 154.74 1086.8 159.99 1080.8C165.24 1074.8 170.67 1069.4 176.07 1064.02C181.47 1058.63 186.84 1053.27 192.36 1047.82C197.88 1042.37 203.54 1036.83 209.06 1032.08C214.58 1027.33 219.95 1023.37 225.27 1018.98C230.59 1014.6 235.84 1009.8 241.18 1004.72C246.51 999.63 251.92 994.27 257.5 989.95C263.07 985.63 268.82 982.37 274.45 979.22C280.08 976.07 285.59 973.03 291.04 969.88C296.5 966.73 301.91 963.47 307.01 960.22C312.11 956.97 316.89 953.73 322.1 950.87C327.31 948 332.93 945.5 338.7 942.82C344.48 940.13 350.39 937.27 356.09 934.43C361.8 931.6 367.29 928.8 372.65 926.07C378.01 923.33 383.23 920.67 388.28 917.83C393.32 915 398.19 912 403.34 909.43C408.49 906.87 413.91 904.73 419.38 902.45C424.85 900.17 430.36 897.73 435.68 895.47C441.01 893.2 446.15 891.1 451.21 888.93C456.28 886.77 461.26 884.53 466.55 882.95C471.84 881.37 477.44 880.43 483.1 879.22C488.76 878 494.49 876.5 499.93 875.1C505.36 873.7 510.5 872.4 515.9 871C521.3 869.6 526.96 868.1 532.83 866.78C538.69 865.47 544.75 864.33 550.51 862.88C556.26 861.43 561.71 859.67 567.01 858.13C572.32 856.6 577.49 855.3 582.85 853.87C588.21 852.43 593.75 850.87 599.18 849.58C604.61 848.3 609.91 847.3 614.88 846.3C619.84 845.3 624.46 844.3 629.07 843.3" stroke="#ff00ff" stroke-width="3.4" fill="none" stroke-linejoin="round"/>
<path d="M144.6 1093.31L151.19 1100L144.6 1106.69L138.01 1100zM159.82 1073.51L166.41 1080.2L159.82 1086.89L153.22 1080.2zM176.09 1057.31L182.69 1064L176.09 1070.69L169.5 1064zM192.22 1041.21L198.81 1047.9L192.22 1054.6L185.63 1047.9zM209.2 1024.61L215.8 1031.3L209.2 1037.99L202.61 1031.3zM225.33 1012.7L231.92 1019.4L225.33 1026.1L218.74 1019.4zM241.1 998.3L247.69 1005L241.1 1011.7L234.51 1005zM257.33 982.2L263.92 988.9L257.33 995.6L250.74 988.9zM274.57 972.4L281.16 979.1L274.57 985.8L267.97 979.1zM291.09 963.3L297.69 970L291.09 976.7L284.5 970zM307.32 953.5L313.91 960.2L307.32 966.9L300.73 960.2zM321.68 943.8L328.27 950.5L321.68 957.2L315.09 950.5zM338.56 936.3L345.15 943L338.56 949.7L331.97 943zM356.3 927.7L362.9 934.4L356.3 941.1L349.71 934.4zM372.78 919.3L379.38 926L372.78 932.7L366.19 926zM388.45 911.3L395.05 918L388.45 924.7L381.86 918zM403.06 902.3L409.66 909L403.06 915.7L396.47 909zM419.34 895.9L425.93 902.6L419.34 909.3L412.75 902.6zM435.87 888.6L442.46 895.3L435.87 902L429.28 895.3zM451.29 882.3L457.88 889L451.29 895.7L444.7 889zM466.25 875.6L472.84 882.3L466.25 889L459.66 882.3zM483.03 872.8L489.63 879.5L483.03 886.2L476.44 879.5zM500.22 868.3L506.81 875L500.22 881.7L493.63 875zM515.64 864.4L522.23 871.1L515.64 877.8L509.05 871.1zM532.62 859.9L539.21 866.6L532.62 873.3L526.03 866.6zM550.82 856.5L557.41 863.2L550.82 869.9L544.23 863.2zM567.15 851.2L573.74 857.9L567.15 864.6L560.56 857.9zM582.67 847.3L589.26 854L582.67 860.7L576.08 854zM599.3 842.6L605.89 849.3L599.3 856L592.71 849.3zM615.22 839.6L621.81 846.3L615.22 853L608.63 846.3zM629.07 836.6L635.66 843.3L629.07 850L622.48 843.3z" fill="#ff00ff"/>
<rect x="90.3" y="652.6" width="593.4" height="494.5" fill="none" stroke="#000" stroke-width="1.9"/>
<path d="M90.3 1111.29h4.4M90.3 1075.99h8.9M90.3 1040.68h4.4M90.3 1005.37h8.9M90.3 970.06h4.4M90.3 934.76h8.9M90.3 899.45h4.4M90.3 864.14h8.9M90.3 828.84h4.4M90.3 793.53h8.9M90.3 758.22h4.4M90.3 722.91h8.9M90.3 687.61h4.4M144.25 1147.1v-5.4M198.19 1147.1v-10M252.14 1147.1v-5.4M306.08 1147.1v-10M360.03 1147.1v-5.4M413.97 1147.1v-10M467.92 1147.1v-5.4M521.86 1147.1v-10M575.81 1147.1v-5.4M629.75 1147.1v-10M683.7 1147.1v-5.4" stroke="#000" stroke-width="1.9" fill="none"/>
<g font-size="20" text-anchor="end">
<text x="79" y="1152.6">95.5</text>
<text x="79" y="1081.99">96.0</text>
<text x="79" y="1011.37">96.5</text>
<text x="79" y="940.76">97.0</text>
<text x="79" y="870.14">97.5</text>
<text x="79" y="799.53">98.0</text>
<text x="79" y="728.91">98.5</text>
<text x="79" y="658.3">99.0</text>
</g>
<g font-size="20" text-anchor="middle">
<text x="90.3" y="1172.7">200</text>
<text x="198.19" y="1172.7">400</text>
<text x="306.08" y="1172.7">600</text>
<text x="413.97" y="1172.7">800</text>
<text x="521.86" y="1172.7">1000</text>
<text x="629.75" y="1172.7">1200</text>
</g>
<text font-size="23" text-anchor="start" transform="translate(17.2 961.1) rotate(-90)">Efficiency<tspan font-style="italic" dx="8.67">η</tspan><tspan dx="6.44">(%)</tspan></text>
<text font-size="22.4" text-anchor="middle" x="386.5" y="1211.7">Output torque <tspan font-style="italic">T</tspan><tspan font-size="14.56" dy="5.82">2</tspan><tspan dy="-5.82"> (Nm)</tspan></text>
<rect x="111.2" y="673.6" width="135.5" height="133.6" fill="#fff" stroke="#222" stroke-width="0.9"/>
<g font-size="19.5">
<path d="M114 688H159.8" stroke="#000000" stroke-width="3.4" stroke-linecap="round"/>
<path d="M132.47 683.57h8.86v8.86h-8.86z" fill="#000000"/>
<text x="166.6" y="694.5">500 rpm</text>
<path d="M114 714.15H159.8" stroke="#00ff00" stroke-width="3.4" stroke-linecap="round"/>
<path d="M131.65 714.15a5.25 5.25 0 1 0 10.51 0a5.25 5.25 0 1 0 -10.51 0z" fill="#00ff00"/>
<text x="166.6" y="720.65">750 rpm</text>
<path d="M114 740.3H159.8" stroke="#0000ff" stroke-width="3.4" stroke-linecap="round"/>
<path d="M136.9 732.88L143.29 744.01L130.51 744.01z" fill="#0000ff"/>
<text x="166.6" y="746.8">1000 rpm</text>
<path d="M114 766.45H159.8" stroke="#ff0000" stroke-width="3.4" stroke-linecap="round"/>
<path d="M136.9 773.87L143.29 762.74L130.51 762.74z" fill="#ff0000"/>
<text x="166.6" y="772.95">1250 rpm</text>
<path d="M114 792.6H159.8" stroke="#ff00ff" stroke-width="3.4" stroke-linecap="round"/>
<path d="M136.9 785.9L143.49 792.6L136.9 799.3L130.31 792.6z" fill="#ff00ff"/>
<text x="166.6" y="799.1">1500 rpm</text>
</g>
</g>
<text font-size="32.62" text-anchor="middle" x="343.7" y="1268.2">(b) The involute internal gear drive</text>
</svg>
</body></html>
